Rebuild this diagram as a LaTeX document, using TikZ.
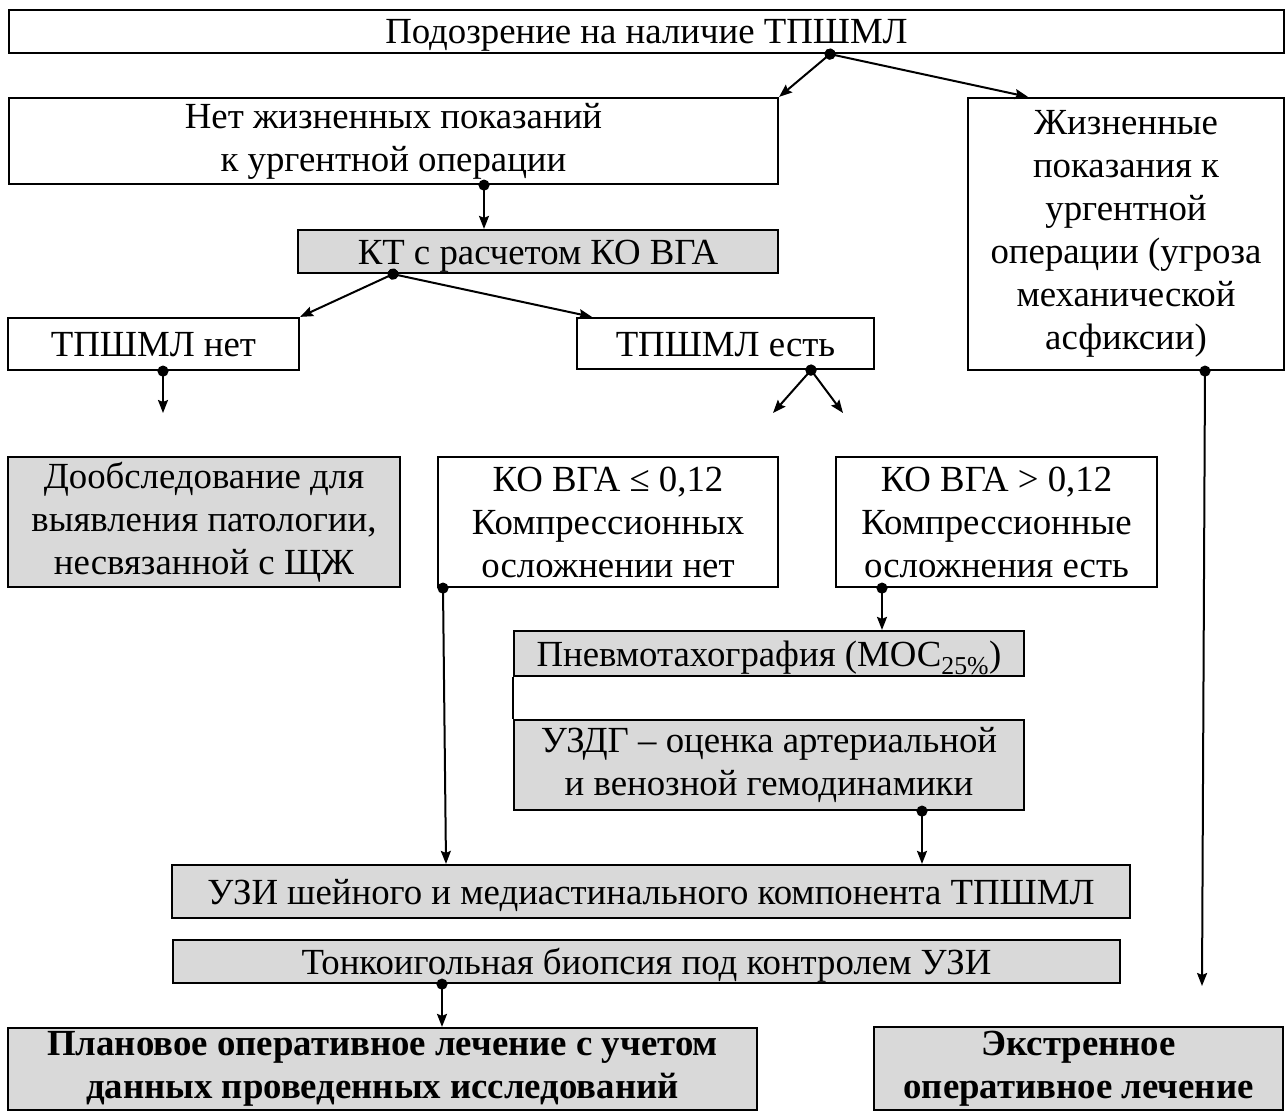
\documentclass[tikz,border=0pt]{standalone}
\usepackage{fontspec}
\setmainfont{Liberation Serif}
\usepackage{tikz}
\usetikzlibrary{arrows.meta, positioning}
\definecolor{boxgray}{RGB}{217,217,217}

\begin{document}
\begin{tikzpicture}[
    x=1pt, y=-1pt,
    box/.style={rectangle, draw, line width=2.2pt, inner sep=0pt, align=center,
                font=\fontsize{36.8}{43}\selectfont},
    greybox/.style={box, fill=boxgray},
    resultbox/.style={greybox, font=\fontsize{36.8}{43}\selectfont\bfseries},
    oneline/.style={text height=25pt, text depth=0pt},
    wh/.style 2 args={minimum width=#1pt, minimum height=#2pt},
    link/.style={{Circle[length=11pt]}-{Stealth[length=13pt,width=10pt,inset=2pt]},
                 line width=2pt, shorten <=-5.5pt}
]
\useasboundingbox (0,0) rectangle (1285,1113);

\node[box, oneline, wh={1275}{43}] (suspect) at (646.5,31.5) {Подозрение на наличие ТПШМЛ};
\node[box, wh={769}{86}] (nolife) at (393.5,141) {Нет жизненных показаний\\к ургентной операции};
\node[box, wh={316}{272}] (life) at (1126,234) {Жизненные\\показания к\\ургентной\\операции (угроза\\механической\\асфиксии)};
\node[greybox, oneline, wh={480}{43}] (ct) at (538,251.5) {КТ с расчетом КО ВГА};
\node[box, oneline, wh={291}{52}] (nopsh) at (153.5,344) {ТПШМЛ нет};
\node[box, oneline, wh={297}{51}] (yespsh) at (725.5,343.5) {ТПШМЛ есть};
\node[greybox, wh={392}{130}] (extra) at (204,522) {Дообследование для\\выявления патологии,\\несвязанной с ЩЖ};
\node[box, wh={340}{130}] (kole) at (608,522) {КО ВГА ≤ 0,12\\Компрессионных\\осложнении нет};
\node[box, wh={321}{130}] (kogt) at (996.5,522) {КО ВГА > 0,12\\Компрессионные\\осложнения есть};
\node[greybox, oneline, wh={510}{45}] (pneumo) at (769,653.5) {Пневмотахография (МОС\textsubscript{25\%})};
\node[greybox, wh={510}{90}] (uzdg) at (769,765) {УЗДГ – оценка артериальной\\и венозной гемодинамики};
\node[greybox, oneline, wh={958}{53}] (uzi) at (651,891.5) {УЗИ шейного и медиастинального компонента ТПШМЛ};
\node[greybox, oneline, wh={947}{43}] (fna) at (646.5,961.5) {Тонкоигольная биопсия под контролем УЗИ};
\node[resultbox, wh={749}{82}] (plan) at (382.5,1069) {Плановое оперативное лечение с учетом\\данных проведенных исследований};
\node[resultbox, wh={409}{83}] (urgent) at (1078.5,1068.5) {Экстренное\\оперативное лечение};

\coordinate (nopshend) at (163,413);
\coordinate (yesleft) at (773,413);
\coordinate (yesright) at (843,413);
\coordinate (lifeend) at (1202,986);

\draw[line width=2.2pt] (pneumo.south west) -- (uzdg.north west);

\draw[link] ([xshift=183.5pt]suspect.south) -- (nolife.north east);
\draw[link] ([xshift=183.5pt]suspect.south) -- ([xshift=-98pt]life.north);
\draw[link] ([xshift=90.5pt]nolife.south) -- ([xshift=-54pt]ct.north);
\draw[link] ([xshift=-145pt]ct.south) -- (nopsh.north east);
\draw[link] ([xshift=-145pt]ct.south) -- ([xshift=-133.5pt]yespsh.north);
\draw[link] ([xshift=9.5pt]nopsh.south) -- (nopshend);
\draw[link] ([xshift=85.5pt]yespsh.south) -- (yesleft);
\draw[link] ([xshift=85.5pt]yespsh.south) -- (yesright);
\draw[link] ([xshift=-165pt]kole.south) -- ([xshift=-205pt]uzi.north);
\draw[link] ([xshift=-114.5pt]kogt.south) -- ([xshift=113pt]pneumo.north);
\draw[link] ([xshift=153pt]uzdg.south) -- ([xshift=271pt]uzi.north);
\draw[link] ([xshift=79pt]life.south) -- (lifeend);
\draw[link] ([xshift=-204.5pt]fna.south) -- ([xshift=59.5pt]plan.north);
\end{tikzpicture}
\end{document}
